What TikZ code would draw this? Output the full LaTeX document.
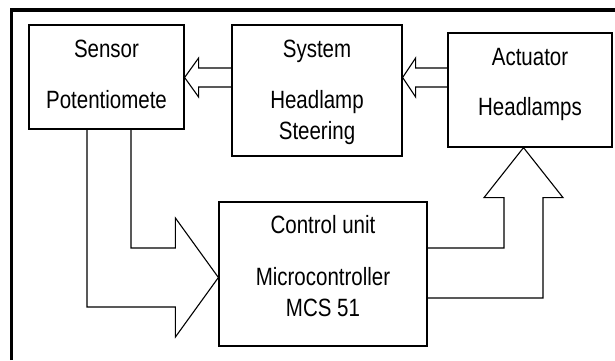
\documentclass[tikz,border=0pt]{standalone}
\usepackage{fontspec}
\setmainfont[FakeStretch=0.82]{Liberation Sans}
\usetikzlibrary{calc}
\begin{document}
\begin{tikzpicture}[x=1pt,y=1pt,
  blk/.style={draw,line width=1.2pt,inner sep=0pt},
  lbl/.style={anchor=base,inner sep=0pt,font=\fontsize{25}{25}\selectfont},
  barrow/.style={draw,line width=1.1pt,line join=miter}]
\useasboundingbox (0,0) rectangle (615,-360);
% outer frame (top and left visible)
\draw[line width=3.6pt,line cap=butt] (11.6,-360) -- (11.6,-10.2) -- (615,-10.2);
% boxes
\node[blk,minimum width=155pt,minimum height=104pt] (sensor) at (106.5,-77) {};
\node[blk,minimum width=170pt,minimum height=131pt] (system) at (317,-90.5) {};
\node[blk,minimum width=164pt,minimum height=114pt] (actuator) at (530,-90) {};
\node[blk,minimum width=208pt,minimum height=144pt] (control) at (323,-274) {};
% labels
\node[lbl] (t1) at (106.5,-57) {Sensor};
\node[lbl] (t2) at (106.5,-108) {Potentiomete};
\node[lbl] (t3) at (317,-57) {System};
\node[lbl] (t4) at (317,-108) {Headlamp};
\node[lbl] (t5) at (317,-139) {Steering};
\node[lbl] (t6) at (530,-65) {Actuator};
\node[lbl] (t7) at (530,-115) {Headlamps};
\node[lbl] (t8) at (323,-233) {Control unit};
\node[lbl] (t9) at (323,-285) {Microcontroller};
\node[lbl] (t10) at (323,-316) {MCS 51};
% block arrow system -> sensor
\coordinate (a1) at ($(sensor.east)+(0,-0.5)$);
\draw[barrow] (a1 -| system.west) ++(0,9.5) -- ($(a1)+(14,9.5)$) -- ($(a1)+(14,19.5)$) -- (a1)
  -- ($(a1)+(14,-19.5)$) -- ($(a1)+(14,-9.5)$) -- ($(a1 -| system.west)+(0,-9.5)$);
% block arrow actuator -> system
\coordinate (a2) at (a1 -| system.east);
\draw[barrow] ($(a2 -| actuator.west)+(0,9.5)$) -- ($(a2)+(13,9.5)$) -- ($(a2)+(13,19.5)$) -- (a2)
  -- ($(a2)+(13,-19.5)$) -- ($(a2)+(13,-9.5)$) -- ($(a2 -| actuator.west)+(0,-9.5)$);
% block arrow sensor -> control
\coordinate (a3) at ($(control.west)+(0,-3.5)$);
\draw[barrow] ($(sensor.south)+(24.5,0)$) |- ($(a3)+(-43,29.5)$) -- ($(a3)+(-43,59.5)$) -- (a3)
  -- ($(a3)+(-43,-59.5)$) -- ($(a3)+(-43,-29.5)$) -| ($(sensor.south)+(-19.5,0)$);
% block arrow control -> actuator
\coordinate (a4) at ($(actuator.south)+(-6.5,0)$);
\draw[barrow] (control.east |- 0,-248) -| ($(a4)+(-19.5,-50)$) -- ($(a4)+(-39.5,-50)$) -- (a4)
  -- ($(a4)+(39.5,-50)$) -- ($(a4)+(19.5,-50)$) |- (control.east |- 0,-298);
\end{tikzpicture}
\end{document}
